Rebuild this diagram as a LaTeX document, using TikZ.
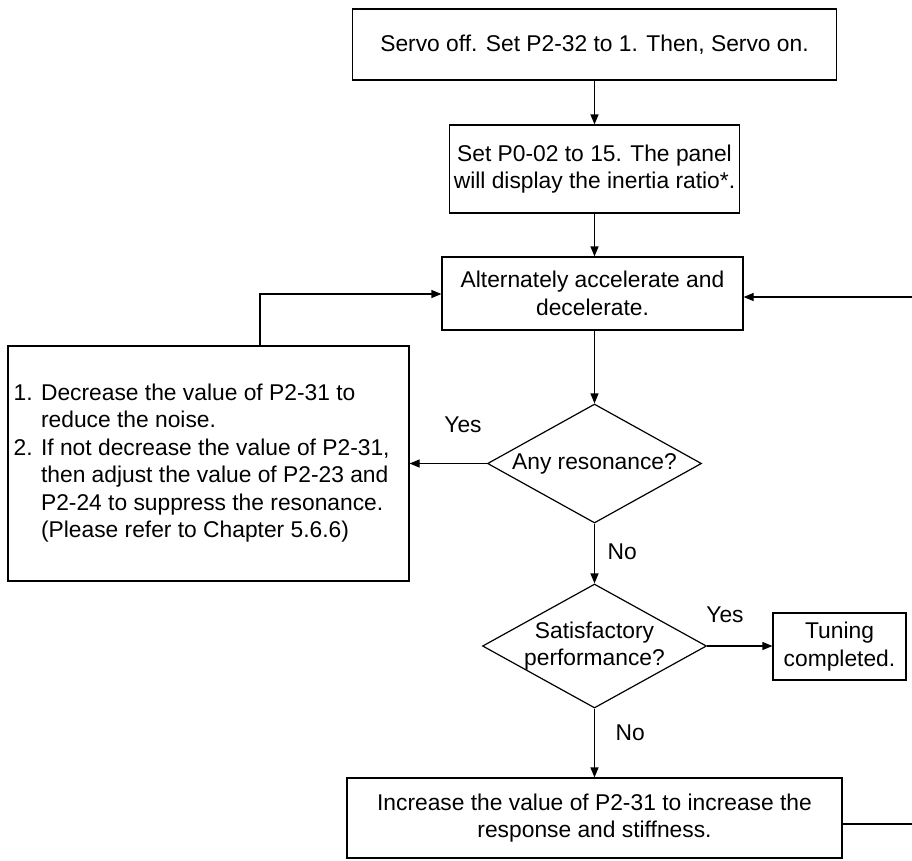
\documentclass[tikz,border=0pt]{standalone}
\usepackage{fontspec}
\setmainfont{Liberation Sans}
\usetikzlibrary{shapes.geometric,arrows.meta}
\newcommand{\fs}{\fontsize{22.8}{27.4}\selectfont}
\begin{document}
\begin{tikzpicture}[x=1pt,y=-1pt,line width=1.2pt,
  box/.style={draw, rectangle, inner sep=0pt, font=\fs, align=center},
  dia/.style={draw, diamond, inner sep=0pt},
  txt/.style={inner sep=0pt, font=\fs, align=center},
  arr/.style={-{Triangle[length=10pt,width=8pt]}}]
\useasboundingbox (0,0) rectangle (912,860);

\node[box, minimum width=484pt, minimum height=71pt] (b1) at (594.5,44.5) {Servo off. Set P2-32 to 1. Then, Servo on.};
\node[box, minimum width=290pt, minimum height=88pt] (b2) at (594.5,169) {Set P0-02 to 15. The panel\\will display the inertia ratio*.};
\node[box, minimum width=301pt, minimum height=73pt] (b3) at (592.5,293.5) {Alternately accelerate and\\decelerate.};
\node[dia, minimum width=214pt, minimum height=119pt] (d1) at (594.5,463.5) {};
\node[txt] (d1t) at (d1.center) {Any resonance?};
\node[box, minimum width=401pt, minimum height=235pt] (lb) at (208.5,463.5) {};
\node[txt, anchor=west] (lbt) at (13,463.5) {\begin{tabular}{@{}l@{ }l@{}}
1. & Decrease the value of P2-31 to\\
 & reduce the noise.\\
2. & If not decrease the value of P2-31,\\
 & then adjust the value of P2-23 and\\
 & P2-24 to suppress the resonance.\\
 & (Please refer to Chapter 5.6.6)
\end{tabular}};
\node[dia, minimum width=224pt, minimum height=124pt] (d2) at (594.5,646) {};
\node[txt] (d2t) at (d2.center) {Satisfactory\\performance?};
\node[box, minimum width=133pt, minimum height=67pt] (tune) at (839.5,646.5) {Tuning\\completed.};
\node[box, minimum width=495pt, minimum height=80pt] (b4) at (594.5,818) {Increase the value of P2-31 to increase the\\response and stiffness.};

\node[txt] (yes1) at (463,425) {Yes};
\node[txt, anchor=west] (no1) at (607,552) {No};
\node[txt] (yes2) at (725,615) {Yes};
\node[txt, anchor=west] (no2) at (615,733) {No};

\coordinate (lt) at (260,294);
\coordinate (rt) at (916,297);
\coordinate (rb) at (916,824);

\draw[arr] (b1.south) -- (b2.north);
\draw[arr] (b2.south) -- (b2.south |- b3.north);
\draw[arr] (d1.north |- b3.south) -- (d1.north);
\draw[arr] (d1.west) -- (lb.east |- d1.west);
\draw[arr] (d1.south) -- (d2.north);
\draw[arr] (d2.east) -- (tune.west |- d2.east);
\draw[arr] (d2.south) -- (b4.north);
\draw[arr] (lb.north -| lt) -- (lt) -- (b3.west |- lt);
\draw[arr] (b4.east |- rb) -- (rb) -- (rt) -- (b3.east |- rt);
\end{tikzpicture}
\end{document}
